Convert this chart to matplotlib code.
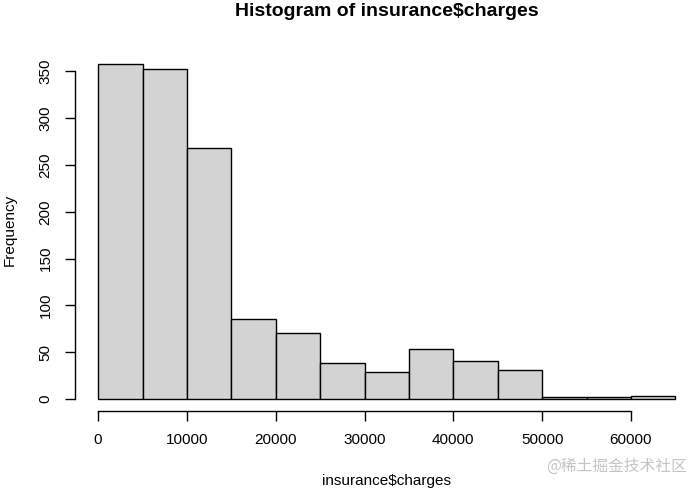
import matplotlib.pyplot as plt

# histogram of insurance charges, bins of 5000
bin_edges = [0, 5000, 10000, 15000, 20000, 25000, 30000, 35000, 40000,
             45000, 50000, 55000, 60000, 65000]
counts = [358, 353, 268, 86, 71, 38, 29, 53, 41, 31, 2, 2, 3]
x_ticks = [0, 10000, 20000, 30000, 40000, 50000, 60000]
y_ticks = [0, 50, 100, 150, 200, 250, 300, 350]

plt.rcParams['font.family'] = ['Liberation Sans', 'DejaVu Sans']

W, H = 691, 491
fig = plt.figure(figsize=(W / 100, H / 100), dpi=100)
# plot region in pixels (R style)
left, right, top, bottom = 75, 698.5, 50, 411
ax = fig.add_axes([left / W, (H - bottom) / H, (right - left) / W, (bottom - top) / H])

ax.bar(bin_edges[:-1], counts, width=5000, align='edge',
       color='#d3d3d3', edgecolor='black', linewidth=1)

ax.set_xlim(-2600, 67600)
ax.set_ylim(-12.8, 372.9)

for s in ['top', 'right']:
    ax.spines[s].set_visible(False)
ax.spines['left'].set_bounds(0, 350)
ax.spines['bottom'].set_bounds(0, 60000)
ax.spines['left'].set_linewidth(1)
ax.spines['bottom'].set_linewidth(1)

ax.set_xticks(x_ticks)
ax.set_yticks(y_ticks)
ax.set_xticklabels([str(v) for v in x_ticks])
ax.set_yticklabels([str(v) for v in y_ticks], rotation=90, va='center')
ax.tick_params(direction='out', length=7.2, width=1, labelsize=11, pad=9)

fig.text(387 / W, 1 - 12 / H, "Histogram of insurance$charges", ha='center', va='center',
         fontsize=14, fontweight='bold')
fig.text(387 / W, 1 - 481 / H, "insurance$charges", ha='center', va='center', fontsize=11)
fig.text(10 / W, 1 - 230 / H, "Frequency", ha='center', va='center', fontsize=11, rotation=90)

fig.text(617 / W, 1 - 466 / H, "@稀土掘金技术社区", ha='center', va='center', fontsize=11.3,
         color='#c4c4c4', family=['Noto Sans CJK SC', 'DejaVu Sans'])

fig.savefig('out.png', dpi=100)
